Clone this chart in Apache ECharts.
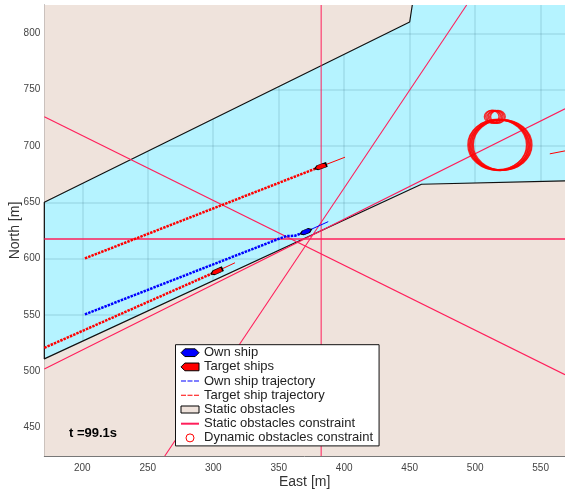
<!DOCTYPE html>
<html><head><meta charset="utf-8">
<style>html,body{margin:0;padding:0;background:#fff}#c{width:565px;height:498px}</style>
<script src="https://cdn.jsdelivr.net/npm/echarts@6/dist/echarts.min.js"></script>
</head><body><div id="c"></div>
<script>
const xTicks=[200,250,300,350,400,450,500,550];
const yTicks=[450,500,550,600,650,700,750,800];
const landUpper=[[171,650],[450,810],[452,825.1],[171,825.1]];
const landLower=[[171,511],[459,666],[568.6,669],[568.6,424.8],[171,424.8]];
const boundary=[[452,825.1],[450,810],[171,650],[171,511],[459,666],[568.6,669]];
const constraintVertical=[[382.4,424.8],[382.4,825.1]];
const constraintHorizontal=[[171,617.4],[568.6,617.4]];
const constraintFalling=[[171,726],[568.6,497]];
const constraintRising=[[171,502],[568.6,733]];
const constraintSteep=[[263,424.8],[493.5,825.1]];
const ownTrack=[[202,550.5],[351,618],[356,620],[362.4,620.3],[366.2,622],[370.8,623.9]];
const ownPrediction=[[370.8,623.9],[387.8,632.8]];
const targetTrackA=[[202,600.2],[381.9,681.6]];
const targetPredictionA=[[381.9,681.6],[400.6,690]];
const targetTrackB=[[171,520.8],[302.6,588.6]];
const targetPredictionB=[[302.6,588.6],[316.6,596.3]];
const farTargetPrediction=[[557,693],[568.6,695.6]];
const ownShip=[[370.8,623.9,22]];
const targetShips=[[381.9,681.6,20],[302.6,588.6,24]];
const bigRings=[[516.8,700.9,22.4],[517.4,701.3,22.4],[518,700.5,22.4],[518.6,701,22.4],[519.2,700.6,22.4],[519.8,701.1,22.4],[520.4,700.7,22.4],[521,701,22.4]];
const smallRings=[[512.6,725.9,5.6],[513.6,726.2,5.6],[514.6,725.6,5.6],[515.6,726,5.6],[516.6,725.7,5.6],[517.4,725.9,5.6]];
const PINK='#ff1f5b',RED='#ff0000',BLUE='#0000ff',LAND='#efe3dc',WATER='#b5f3ff';
const shipPath='path://M0 2L3 0L9 0L12 2L9 4L3 4Z';
const targetPath='path://M0 2L3 0L12 0L12 4L3 4Z';
const legendOwnPath='path://M0 3L3 0L11 0L14 3L11 6L3 6Z';
const legendTargetPath='path://M0 3L3 0L14 0L14 6L3 6Z';
const dashPath='path://M0 0H5V1H0ZM6.5 0H11.5V1H6.5ZM13 0H18V1H13Z';
const linePath='path://M0 0H18V2H0Z';
const rectPath='path://M0 0H18V7H0Z';

function polygonSeries(poly){
  return {type:'custom',name:'Static obstacles',coordinateSystem:'cartesian2d',z:2,silent:true,data:[[poly[0][0],poly[0][1]]],
    renderItem:(p,api)=>({type:'polygon',shape:{points:poly.map(q=>api.coord(q))},style:{fill:LAND}})};
}
function ringSeries(rings){
  return {type:'custom',name:'Dynamic obstacles constraint',coordinateSystem:'cartesian2d',z:6,silent:true,
    data:rings,
    itemStyle:{color:'#fff',borderColor:RED,borderWidth:1},
    renderItem:(p,api)=>{const c=api.coord([api.value(0),api.value(1)]);const s=api.size([api.value(2),api.value(2)]);
      return {type:'ellipse',shape:{cx:c[0],cy:c[1],rx:s[0],ry:s[1]},style:{fill:'none',stroke:RED,lineWidth:1.3,opacity:.8}};}};
}
function lineS(name,data,color,width,type,z){
  return {type:'line',name:name,data:data,showSymbol:false,symbol:'none',silent:true,z:z||5,
    lineStyle:{color:color,width:width,type:type||'solid',cap:'butt'},itemStyle:{color:color},animation:false};
}
function shipS(name,data,color,path){
  return {type:'scatter',name:name,z:8,silent:true,symbol:path,symbolSize:[12,4.5],symbolKeepAspect:false,
    data:data.map(d=>({value:[d[0],d[1]],symbolRotate:d[2]})),
    itemStyle:{color:color,borderColor:'#000',borderWidth:1,opacity:1}};
}
const axisFont={color:'#444',fontSize:10,fontFamily:'Liberation Sans'};
const nameFont={color:'#333',fontSize:14,fontFamily:'Liberation Sans'};
const gridLine={show:true,lineStyle:{color:'rgba(0,60,80,0.12)',width:1.5}};
const option={
  animation:false,
  grid:{left:44.3,right:0,top:5,height:451,show:true,backgroundColor:WATER,borderWidth:0,outerBoundsMode:'none'},
  xAxis:{type:'value',min:171,max:568.6,name:'East [m]',nameLocation:'middle',nameGap:19,nameMoveOverlap:false,nameTextStyle:nameFont,
    axisLine:{show:true,onZero:false,lineStyle:{color:'#777',width:1}},axisTick:{show:false,customValues:xTicks},
    axisLabel:Object.assign({margin:7,customValues:xTicks},axisFont),splitLine:gridLine},
  yAxis:{type:'value',min:424.8,max:825.1,name:'North [m]',nameLocation:'middle',nameGap:22,nameMoveOverlap:false,nameTextStyle:nameFont,
    axisLine:{show:true,onZero:false,lineStyle:{color:'#777',width:1}},axisTick:{show:false,customValues:yTicks},
    axisLabel:Object.assign({margin:4,customValues:yTicks},axisFont),splitLine:gridLine},
  legend:{show:true,orient:'vertical',left:175.5,top:344.7,padding:[1,6,1,5],itemGap:0.2,itemWidth:18,itemHeight:8,
    backgroundColor:'#fff',borderColor:'#111',borderWidth:1,borderRadius:0,z:20,selectedMode:false,symbolKeepAspect:true,
    textStyle:{fontFamily:'Liberation Sans',fontSize:13,color:'#222',lineHeight:14,padding:[0,0,0,0]},
    data:[
      {name:'Own ship',icon:legendOwnPath,itemStyle:{color:BLUE,borderColor:'#000',borderWidth:1}},
      {name:'Target ships',icon:legendTargetPath,itemStyle:{color:RED,borderColor:'#000',borderWidth:1}},
      {name:'Own ship trajectory',icon:dashPath,itemStyle:{color:BLUE,borderWidth:0}},
      {name:'Target ship trajectory',icon:dashPath,itemStyle:{color:RED,borderWidth:0}},
      {name:'Static obstacles',icon:rectPath,itemStyle:{color:LAND,borderColor:'#000',borderWidth:1}},
      {name:'Static obstacles constraint',icon:linePath,itemStyle:{color:PINK,borderWidth:0}},
      {name:'Dynamic obstacles constraint',icon:'circle',itemStyle:{color:'#fff',borderColor:RED,borderWidth:1}}
    ]},
  graphic:[{type:'text',left:69,top:427,z:30,style:{text:'t =99.1s',font:'bold 13px "Liberation Sans"',fill:'#000'}}],
  series:[
    polygonSeries(landUpper),
    polygonSeries(landLower),
    lineS('Boundary',boundary,'#111',1.2,'solid',3),
    lineS('Static obstacles constraint',constraintVertical,PINK,1),
    lineS('Static obstacles constraint',constraintHorizontal,PINK,1.3),
    lineS('Static obstacles constraint',constraintFalling,PINK,1.1),
    lineS('Static obstacles constraint',constraintRising,PINK,1.1),
    lineS('Static obstacles constraint',constraintSteep,PINK,1.1),
    lineS('Own ship trajectory',ownTrack,BLUE,2.5,[2.5,1],7),
    lineS('Own prediction',ownPrediction,BLUE,1,'solid',7),
    lineS('Target ship trajectory',targetTrackA,RED,2.5,[2.5,1],7),
    lineS('Target ship trajectory',targetTrackB,RED,2.5,[2.5,1],7),
    lineS('Target prediction',targetPredictionA,RED,1,'solid',7),
    lineS('Target prediction',targetPredictionB,RED,1,'solid',7),
    lineS('Target prediction',farTargetPrediction,RED,1,'solid',7),
    ringSeries(bigRings),
    ringSeries(smallRings),
    shipS('Own ship',ownShip,BLUE,shipPath),
    shipS('Target ships',targetShips,RED,targetPath)
  ]
};
echarts.init(document.getElementById('c'),null,{renderer:'canvas'}).setOption(option);
</script></body></html>
